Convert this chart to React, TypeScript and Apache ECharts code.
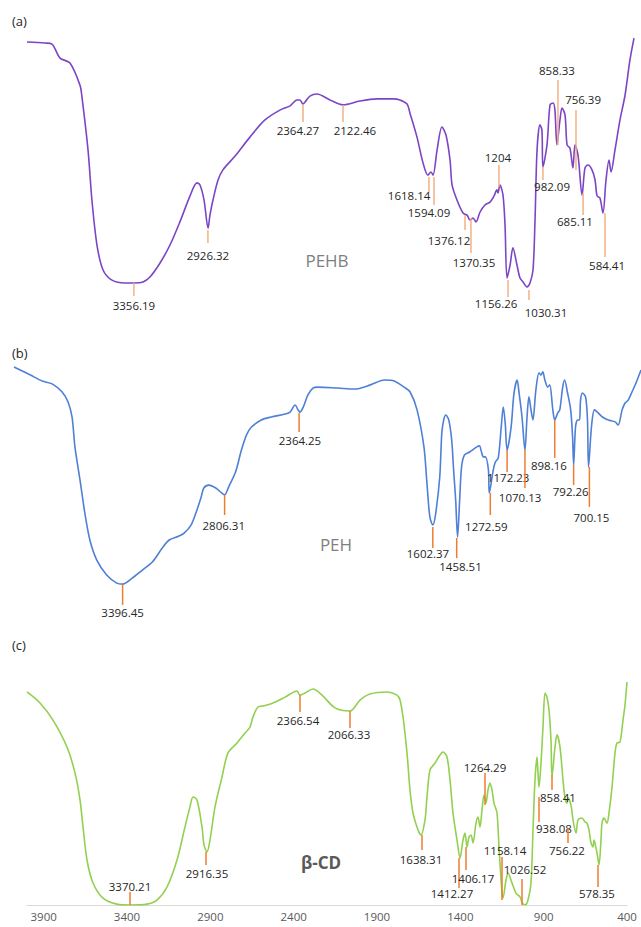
import React, { useEffect, useRef } from "react";
import * as echarts from "echarts";

// ---------- (a) PEHB ----------
const pehbWn = [4000,3893,3852,3804,3745,3686,3674,3638,3615,3585,3549,3496,3419,3360,3312,3271,3211,3152,3093,3033,2992,2974,2950,2926,2915,2897,2867,2838,2766,2678,2589,2500,2440,2399,2381,2364,2351,2322,2280,2203,2126,2025,1924,1829,1788,1746,1729,1687,1651,1622,1604,1592,1568,1539,1515,1491,1479,1450,1414,1390,1373,1355,1337,1313,1284,1254,1230,1213,1207,1195,1177,1165,1153,1135,1118,1094,1076,1058,1035,1017,999,987,975,958,946,940,916,898,880,869,857,839,827,809,797,780,762,750,732,708,691,673,649,631,619,602,584,566,548,536,513,483,453,424,400];
const pehbT = [95.4,95.0,94.6,89.2,87.3,78.8,74.2,53.8,34.6,17.3,7.7,3.8,2.7,2.7,3.1,5.0,10.4,17.3,26.2,36.2,41.2,40.4,34.6,23.8,28.8,34.6,42.3,46.2,51.5,58.8,65.4,69.2,70.8,73.1,73.1,71.5,72.3,74.6,75.4,73.1,71.2,72.7,73.5,73.5,73.1,71.5,68.1,58.8,48.8,44.2,45.4,44.2,53.8,62.7,59.6,50.0,40.4,34.6,29.6,28.8,26.9,27.7,26.2,30.0,32.7,33.8,36.2,38.5,37.3,40.4,36.5,25.0,4.6,9.6,16.2,9.6,4.6,3.1,1.2,2.7,7.7,26.9,53.8,63.5,61.5,47.3,55.8,71.2,71.9,69.2,55.8,65.4,70.0,67.3,55.8,54.6,46.9,55.8,51.9,36.5,46.9,48.1,46.2,42.3,36.2,35.4,29.6,42.3,50.0,45.4,53.8,65.4,75.0,88.5,96.9];
const pehbPeakLabels = ["3356.19","2926.32","2364.27","2122.46","1618.14","1594.09","1376.12","1370.35","1204","1156.26","1030.31","982.09","858.33","756.39","685.11","584.41"];
const pehbPeakX = [3366,2927,2363,2126,1616,1586,1402,1367,1201,1147,1023,940,851,744,702,572];
const pehbPeakFrom = [2.7,23.1,71.5,71.2,43.5,43.5,28.8,27.7,48.1,3.8,0,47.3,80.8,69.2,37.3,29.6];
const pehbPeakTo = [-2.3,18.1,64.6,64.6,37.7,32.7,23.1,14.2,39.6,-2.7,-3.8,42.3,55.8,46.2,28.8,12.7];
const pehbLabelX = [3366,2927,2393,2055,1734,1616,1497,1349,1207,1218,922,886,857,702,750,560];
const pehbLabelY = [-5.8,13.1,61.5,61.5,36.5,30.0,19.2,10.4,50.8,-5.0,-8.8,40.0,84.6,73.1,26.5,9.6];

// ---------- (b) PEH ----------
const pehWn = [4020,3925,3857,3800,3742,3708,3685,3668,3639,3611,3582,3542,3485,3427,3393,3336,3279,3221,3164,3124,3067,3038,2998,2970,2941,2924,2895,2855,2821,2804,2781,2741,2707,2678,2649,2592,2535,2455,2426,2397,2380,2369,2352,2323,2294,2266,2151,2054,1962,1882,1825,1768,1733,1693,1653,1636,1619,1602,1585,1562,1550,1539,1527,1510,1493,1482,1470,1459,1447,1436,1419,1390,1350,1333,1321,1310,1299,1281,1276,1253,1241,1224,1207,1195,1184,1173,1150,1133,1115,1104,1087,1070,1058,1047,1035,1024,1007,989,978,967,955,938,927,909,898,881,869,852,841,824,806,795,789,778,766,755,749,738,720,709,703,686,669,652,623,589,549,532,509,492,474,452,429,400];
const pehT = [95.1,91.8,89.4,88.2,84.9,80.8,74.7,62.4,49.0,35.5,24.5,16.3,10.2,6.9,6.5,9.0,12.2,15.5,21.2,24.5,26.1,27.3,30.6,35.5,41.6,45.7,46.9,45.7,43.7,42.9,46.1,52.2,61.2,67.3,70.6,73.5,74.7,75.9,76.7,79.6,77.6,76.7,78.4,83.7,86.5,86.9,86.5,86.1,87.8,89.8,89.4,86.9,84.9,77.6,62.4,47.8,33.9,30.6,35.5,50.2,68.2,73.5,75.5,73.5,65.3,53.1,40.8,25.7,40.8,54.3,59.2,60.4,62.4,62.9,60.4,58.4,58.4,53.1,43.7,53.1,56.3,58.0,70.6,78.8,72.2,61.2,70.6,84.5,89.8,84.5,74.7,61.2,74.7,82.9,77.6,73.5,85.7,92.7,91.8,93.1,89.8,86.9,87.8,77.6,73.5,76.3,77.6,86.9,89.8,84.5,77.6,66.5,55.1,70.6,73.5,73.5,81.6,84.5,82.9,73.5,54.3,70.6,77.6,76.7,74.7,73.5,72.7,71.4,77.6,80.4,81.6,84.9,88.6,93.9];
const pehPeakLabels = ["3396.45","2806.31","2364.25","1602.37","1458.51","1272.59","1172.23","1070.13","898.16","792.26","700.15"];
const pehPeakX = [3393,2804,2374,1602,1464,1270,1173,1070,898,789,698];
const pehPeakFrom = [6.5,42.9,76.3,29.8,25.3,43.7,61.2,61.2,73.5,55.1,54.3];
const pehPeakTo = [-2.0,34.7,68.6,21.2,17.1,34.7,52.2,45.7,58.0,46.9,38.0];
const pehLabelX = [3393,2809,2369,1630,1442,1293,1167,1098,932,806,686];
const pehLabelY = [-5.3,30.6,64.9,18.8,13.5,30.2,50.2,42.0,55.1,44.1,33.5];

// ---------- (c) beta-CD ----------
const cdWn = [4000,3922,3844,3760,3712,3682,3664,3640,3604,3544,3460,3382,3280,3220,3160,3100,3052,3022,3004,2980,2950,2938,2920,2902,2872,2830,2794,2740,2692,2662,2644,2614,2584,2524,2452,2380,2362,2332,2284,2230,2152,2062,2002,1942,1840,1780,1762,1744,1720,1702,1684,1654,1636,1612,1600,1582,1552,1522,1504,1480,1462,1444,1420,1402,1384,1372,1360,1348,1336,1324,1306,1294,1282,1270,1258,1246,1234,1222,1210,1198,1180,1168,1150,1144,1126,1114,1090,1066,1042,1030,1012,994,976,964,952,940,934,928,916,904,892,880,868,856,850,832,820,802,784,772,760,754,736,724,706,694,670,652,640,628,616,604,598,580,568,556,550,538,520,508,490,472,460,442,424,412,400];
const cdT = [94.7,89.8,82.2,70.2,58.7,46.7,34.7,20.0,9.8,3.1,0.4,0,0.4,2.2,8.0,20.0,34.7,43.6,48.0,46.7,34.7,26.7,23.6,28.9,43.6,56.9,67.6,72.0,76.4,79.1,83.6,88.0,88.4,89.8,92.4,95.1,93.3,94.2,96.0,93.3,87.6,86.2,91.1,93.8,94.7,93.3,91.1,83.6,67.6,51.1,40.9,33.3,31.1,37.8,48.0,60.0,63.1,66.7,68.0,65.8,55.6,40.9,28.9,20.9,28.9,32.0,25.8,30.2,31.1,27.6,36.4,39.1,34.7,42.2,48.9,45.3,51.1,54.2,51.1,45.3,40.9,25.8,5.3,3.1,11.1,14.2,9.8,5.3,3.6,1.3,0,2.2,9.8,33.3,55.6,65.8,58.7,52.4,63.1,79.1,94.2,92.4,86.7,73.3,56.9,70.2,75.6,70.2,55.6,47.6,45.3,47.6,44.4,37.8,32.0,37.8,38.7,36.9,36.4,33.3,27.6,25.8,28.9,23.1,17.8,28.9,36.4,38.7,36.4,40.9,52.4,67.6,72.0,72.4,82.2,88.9,99.1];
const cdPeakLabels = ["3370.21","2916.35","2366.54","2066.33","1638.31","1412.27","1406.17","1264.29","1158.14","1026.52","938.08","858.41","756.22","578.35"];
const cdPeakX = [3382,2926,2362,2062,1630,1408,1366,1252,1150,1030,928,850,754,574];
const cdPeakFrom = [5.8,23.6,93.3,86.2,31.1,20.9,25.8,58.7,21.3,11.6,48.0,57.8,34.2,17.8];
const cdPeakTo = [0,17.8,85.8,78.7,24.4,7.6,15.6,44.4,2.2,0,36.9,51.1,27.6,8.0];
const cdLabelX = [3382,2920,2374,2068,1636,1450,1324,1252,1132,1012,838,814,760,580];
const cdLabelY = [8.4,14.2,81.8,75.6,20.4,4.9,12.0,61.3,24.4,15.6,33.8,48.0,24.4,5.3];

const xTicks = [3900, 3400, 2900, 2400, 1900, 1400, 900, 400];

const FONT = "'Open Sans', 'Liberation Sans', sans-serif";

function lineSeries(idx: number, wn: number[], t: number[], color: string) {
  return {
    type: "line",
    xAxisIndex: idx,
    yAxisIndex: idx,
    data: wn.map((w, i) => [w, t[i]]),
    showSymbol: false,
    symbol: "none",
    smooth: 0.3,
    lineStyle: { width: 1.6, color },
    silent: true,
    z: 2,
  };
}

function peakSeries(
  idx: number,
  labels: string[],
  xs: number[],
  froms: number[],
  tos: number[],
  lx: number[],
  ly: number[],
  color: string
) {
  return {
    type: "custom",
    xAxisIndex: idx,
    yAxisIndex: idx,
    clip: false,
    silent: true,
    z: 3,
    data: xs.map((x, i) => [x, froms[i], tos[i], lx[i], ly[i]]),
    encode: { x: [0, 3], y: [1, 2, 4] },
    renderItem: (params: any, api: any) => {
      const p1 = api.coord([api.value(0), api.value(1)]);
      const p2 = api.coord([api.value(0), api.value(2)]);
      const t = api.coord([api.value(3), api.value(4)]);
      return {
        type: "group",
        children: [
          {
            type: "line",
            shape: { x1: p1[0], y1: p1[1], x2: p2[0], y2: p2[1] },
            style: { stroke: color, lineWidth: 1.5 },
          },
          {
            type: "text",
            x: t[0],
            y: t[1],
            style: {
              text: labels[params.dataIndex],
              fill: "#262626",
              fontSize: 11.5,
              fontFamily: FONT,
              align: "center",
              verticalAlign: "middle",
            },
          },
        ],
      };
    },
  };
}

export default function App() {
  const ref = useRef<HTMLDivElement>(null);

  useEffect(() => {
    if (!ref.current) return;
    const chart = echarts.init(ref.current, null, { renderer: "svg" });
    const hiddenX = (max: number) => ({
      type: "value",
      inverse: true,
      min: 400,
      max,
      show: false,
    });
    const option: any = {
      animation: false,
      backgroundColor: "#ffffff",
      grid: [
        { left: 27, width: 607, top: 30, height: 260 },
        { left: 14, width: 632, top: 355, height: 245 },
        { left: 27, width: 600, top: 680, height: 225 },
      ],
      xAxis: [
        { ...hiddenX(4000), gridIndex: 0 },
        { ...hiddenX(4020), gridIndex: 1 },
        {
          type: "value",
          gridIndex: 2,
          inverse: true,
          min: 400,
          max: 4000,
          interval: 500,
          axisLine: { show: true, lineStyle: { color: "#d9d9d9", width: 1.2 } },
          axisTick: { show: false },
          splitLine: { show: false },
          axisLabel: {
            color: "#595959",
            fontSize: 11.5,
            fontFamily: FONT,
            margin: 5,
            formatter: (v: number) => (xTicks.indexOf(v) >= 0 ? String(v) : ""),
          },
        },
      ],
      yAxis: [0, 1, 2].map((i) => ({
        type: "value",
        gridIndex: i,
        min: 0,
        max: 100,
        show: false,
      })),
      series: [
        lineSeries(0, pehbWn, pehbT, "#7b45c6"),
        lineSeries(1, pehWn, pehT, "#4f7fd6"),
        lineSeries(2, cdWn, cdT, "#92d050"),
        peakSeries(0, pehbPeakLabels, pehbPeakX, pehbPeakFrom, pehbPeakTo, pehbLabelX, pehbLabelY, "#f4b183"),
        peakSeries(1, pehPeakLabels, pehPeakX, pehPeakFrom, pehPeakTo, pehLabelX, pehLabelY, "#ed7d31"),
        peakSeries(2, cdPeakLabels, cdPeakX, cdPeakFrom, cdPeakTo, cdLabelX, cdLabelY, "#ed7d31"),
      ],
      graphic: [
        { type: "text", left: 12, top: 14, style: { text: "(a)", fill: "#262626", fontSize: 13, fontFamily: FONT } },
        { type: "text", left: 12, top: 346, style: { text: "(b)", fill: "#262626", fontSize: 13, fontFamily: FONT } },
        { type: "text", left: 12, top: 638, style: { text: "(c)", fill: "#262626", fontSize: 13, fontFamily: FONT } },
        { type: "text", x: 327, y: 260, style: { text: "PEHB", fill: "#7f7f7f", fontSize: 17, fontFamily: FONT, align: "center", verticalAlign: "middle" } },
        { type: "text", x: 336, y: 544, style: { text: "PEH", fill: "#7f7f7f", fontSize: 17, fontFamily: FONT, align: "center", verticalAlign: "middle" } },
        { type: "text", x: 321, y: 862, style: { text: "β-CD", fill: "#595959", fontSize: 17, fontWeight: "bold", fontFamily: FONT, align: "center", verticalAlign: "middle" } },
      ],
    };
    chart.setOption(option);
    return () => chart.dispose();
  }, []);

  return (
    <div
      ref={ref}
      style={{ position: "absolute", left: 0, top: 0, width: 641, height: 927, background: "#ffffff" }}
    />
  );
}
